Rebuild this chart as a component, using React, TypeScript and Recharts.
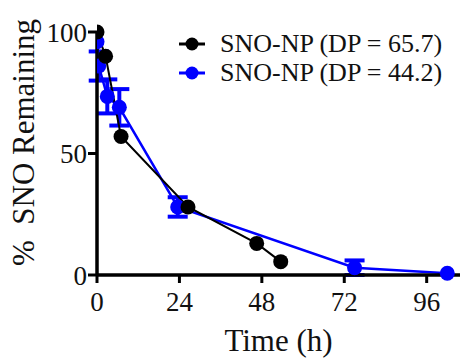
import React from 'react';
import { LineChart, Line, XAxis, YAxis, ErrorBar } from 'recharts';

const blackTime = [0, 2.5, 7, 26.5, 46.5, 53.5];
const blackVal = [100, 90, 57, 28, 13, 5.5];

const blueTime = [0, 0.5, 3, 6.5, 23.5, 75, 102];
const blueVal = [96, 86, 73.5, 69, 28, 3, 0.7];
const blueErr = [0, 6, 7, 7.5, 4, 3, 0];

const xTicks = [0, 24, 48, 72, 96];
const yTicks = [0, 50, 100];

const seriesNames = ['SNO-NP (DP = 65.7)', 'SNO-NP (DP = 44.2)'];
const seriesColors = ['#000000', '#0000ff'];

const blackData = blackTime.map((t, i) => ({ t, y: blackVal[i] }));
const blueData = blueTime.map((t, i) => ({ t, y: blueVal[i], err: blueErr[i] }));

const FONT = '"Liberation Serif", serif';

const LegendBox = () => (
  <div
    style={{
      position: 'absolute',
      left: 178,
      top: 29,
      fontFamily: FONT,
      fontSize: 26,
      color: '#111',
    }}
  >
    {seriesNames.map((name, i) => (
      <div key={name} style={{ display: 'flex', alignItems: 'center', height: 29 }}>
        <svg width={28} height={20} style={{ display: 'block' }}>
          <line x1={1} y1={10} x2={27} y2={10} stroke={seriesColors[i]} strokeWidth={3} />
          <circle cx={14} cy={10} r={6.5} fill={seriesColors[i]} />
        </svg>
        <span style={{ marginLeft: 14, whiteSpace: 'nowrap', lineHeight: '29px', fontFamily: FONT }}>
          {name}
        </span>
      </div>
    ))}
  </div>
);

const YLabel = (props: any) => {
  const vb = props.viewBox || {};
  const cx = (vb.x || 0) + 34;
  const cy = (vb.y || 0) + (vb.height || 0) / 2 - 11;
  return (
    <text
      x={cx}
      y={cy}
      transform={`rotate(-90, ${cx}, ${cy})`}
      textAnchor="middle"
      fontFamily={FONT}
      fontSize={31}
      fill="#111"
      style={{ whiteSpace: 'pre', fontFamily: FONT }}
    >
      {'%  SNO Remaining'}
    </text>
  );
};

const tickStyle = { fontFamily: FONT, fontSize: 27, fill: '#111', style: { fontFamily: FONT } };

export default function App() {
  return (
    <div style={{ position: 'absolute', left: 0, top: 0, width: 460, height: 358, fontFamily: FONT }}>
      <LineChart
        width={460}
        height={358}
        margin={{ top: 32, right: 0, bottom: 0, left: 0 }}
        style={{ overflow: 'visible', fontFamily: FONT }}
      >
        <XAxis
          type="number"
          dataKey="t"
          domain={[0, 105.7]}
          ticks={xTicks}
          allowDataOverflow
          height={83}
          axisLine={{ stroke: '#000', strokeWidth: 3.5 }}
          tickLine={{ stroke: '#000', strokeWidth: 3 }}
          tickSize={8}
          tickMargin={9}
          tick={tickStyle}
          label={{
            value: 'Time (h)',
            position: 'insideBottom',
            offset: 7,
            style: { fontFamily: FONT, fontSize: 31, fill: '#111' },
          }}
        />
        <YAxis
          type="number"
          domain={[0, 100]}
          ticks={yTicks}
          width={97}
          axisLine={{ stroke: '#000', strokeWidth: 3.5 }}
          tickLine={{ stroke: '#000', strokeWidth: 3 }}
          tickSize={9}
          tickMargin={1}
          tick={tickStyle}
          label={<YLabel />}
        />
        <Line
          data={blueData}
          dataKey="y"
          name={seriesNames[1]}
          stroke="#0000ff"
          strokeWidth={2.5}
          dot={{ r: 7.5, fill: '#0000ff', stroke: '#0000ff', strokeWidth: 0 }}
          isAnimationActive={false}
        >
          <ErrorBar dataKey="err" direction="y" width={10} strokeWidth={4} stroke="#0000ff" />
        </Line>
        <Line
          data={blackData}
          dataKey="y"
          name={seriesNames[0]}
          stroke="#000000"
          strokeWidth={2}
          dot={{ r: 7.5, fill: '#000', stroke: '#000', strokeWidth: 0 }}
          isAnimationActive={false}
        />
      </LineChart>
      <LegendBox />
    </div>
  );
}
